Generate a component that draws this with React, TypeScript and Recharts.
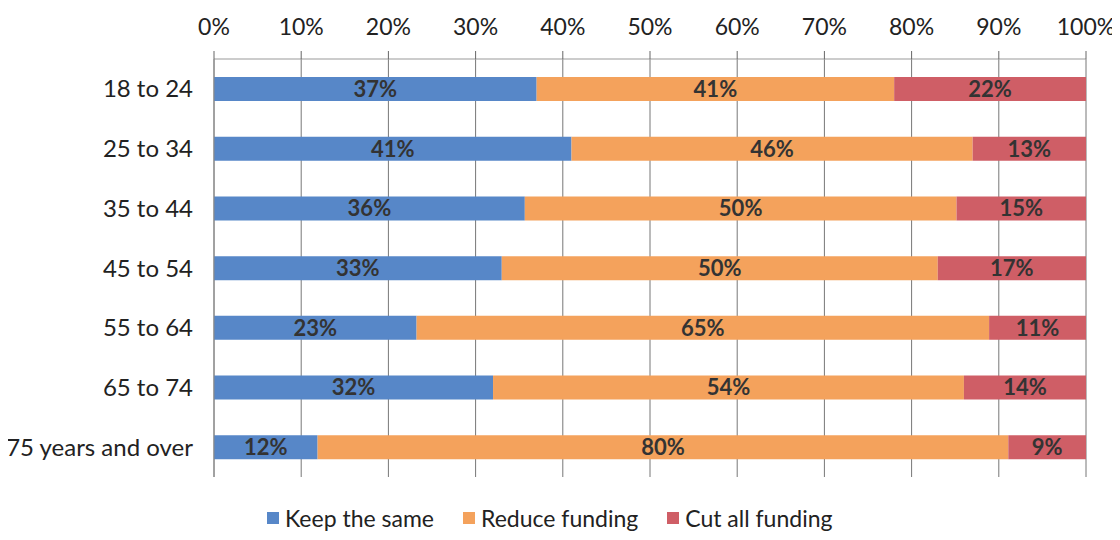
import { Bar, BarChart, CartesianGrid, LabelList, XAxis, YAxis } from 'recharts'

const ageGroups = ['18 to 24', '25 to 34', '35 to 44', '45 to 54', '55 to 64', '65 to 74', '75 years and over']
const keepSame = [37, 41, 36, 33, 23, 32, 12]
const reduceFunding = [41, 46, 50, 50, 65, 54, 80]
const cutAll = [22, 13, 15, 17, 11, 14, 9]
const xTicks = [0, 0.1, 0.2, 0.3, 0.4, 0.5, 0.6, 0.7, 0.8, 0.9, 1]

const series = [
  { key: 'keep', name: 'Keep the same', color: '#5787C8' },
  { key: 'reduce', name: 'Reduce funding', color: '#F4A25C' },
  { key: 'cut', name: 'Cut all funding', color: '#CF5E66' },
]

const data = ageGroups.map((age, i) => ({
  age,
  keep: keepSame[i],
  reduce: reduceFunding[i],
  cut: cutAll[i],
}))

const font = 'Lato, "Open Sans", sans-serif'

export default function App() {
  return (
    <div style={{ margin: -8, position: 'relative', width: 1120, height: 540, background: '#fff', fontFamily: font }}>
      <BarChart
        width={1120}
        height={540}
        data={data}
        layout="vertical"
        stackOffset="expand"
        margin={{ top: 29, right: 34, left: 10, bottom: 63 }}
      >
        <CartesianGrid horizontal={false} stroke="#777" />
        <XAxis
          type="number"
          orientation="top"
          domain={[0, 1]}
          ticks={xTicks}
          height={30}
          tickSize={8}
          tickMargin={16}
          tickFormatter={(v: number) => `${Math.round(v * 100)}%`}
          tick={{ fill: '#222', fontSize: 23, fontFamily: font }}
          axisLine={{ stroke: '#999' }}
          tickLine={{ stroke: '#666' }}
        />
        <YAxis
          type="category"
          dataKey="age"
          width={204}
          tickSize={0}
          tickMargin={21}
          tick={{ fill: '#222', fontSize: 24, fontFamily: font }}
          axisLine={{ stroke: '#888' }}
          tickLine={false}
        />
        {series.map((s) => (
          <Bar key={s.key} dataKey={s.key} name={s.name} stackId="a" fill={s.color} barSize={24} isAnimationActive={false}>
            <LabelList
              dataKey={s.key}
              position="center"
              formatter={(v: number) => `${v}%`}
              style={{ fill: '#333', fontSize: 22, fontWeight: 700, fontFamily: font }}
            />
          </Bar>
        ))}
      </BarChart>
      <div style={{ position: 'absolute', top: 505, left: 267, display: 'flex', alignItems: 'center', fontSize: 23, lineHeight: '26px', color: '#222' }}>
        {series.map((s) => (
          <div key={s.key} style={{ display: 'flex', alignItems: 'center', marginRight: 29 }}>
            <span style={{ width: 12, height: 12, background: s.color, marginRight: 6, display: 'inline-block' }} />
            <span>{s.name}</span>
          </div>
        ))}
      </div>
    </div>
  )
}
